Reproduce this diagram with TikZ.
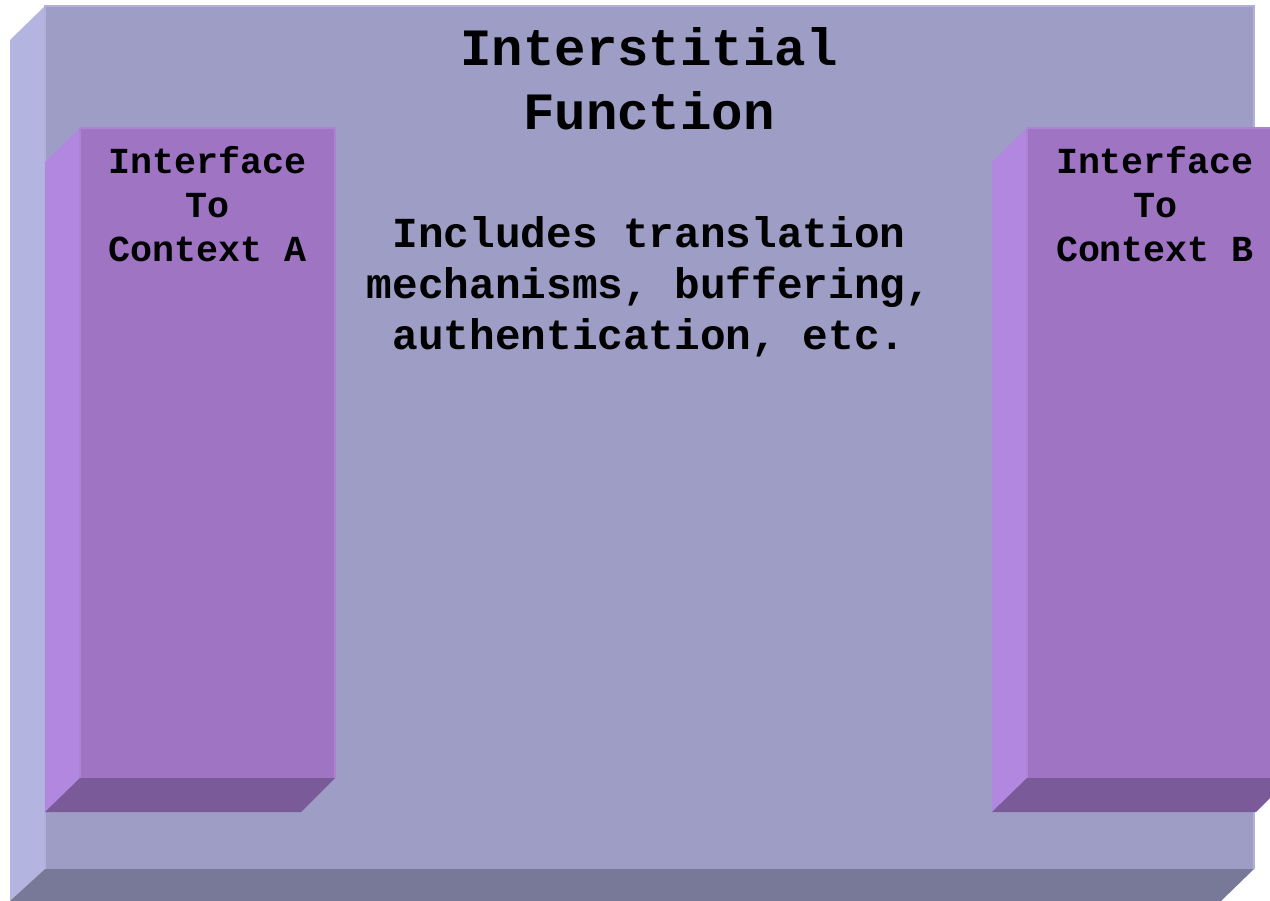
\documentclass[tikz,border=0pt]{standalone}
\usepackage{fontspec}
\setmonofont{Liberation Mono}
\definecolor{slabFront}{RGB}{157,157,197}
\definecolor{slabLeft}{RGB}{180,180,225}
\definecolor{slabBottom}{RGB}{120,120,152}
\definecolor{slabEdge}{RGB}{176,176,216}
\definecolor{pillarFront}{RGB}{158,116,195}
\definecolor{pillarLeft}{RGB}{178,135,224}
\definecolor{pillarBottom}{RGB}{122,90,152}
\definecolor{pillarEdge}{RGB}{172,130,212}
\tikzset{
  label/.style={font=\ttfamily\bfseries, text=black, align=center, inner sep=0pt},
  titletext/.style={label, font=\ttfamily\bfseries\fontsize{52.6}{64}\selectfont},
  bodytext/.style={label, font=\ttfamily\bfseries\fontsize{42.9}{51}\selectfont},
  pillartext/.style={label, font=\ttfamily\bfseries\fontsize{36.8}{44.5}\selectfont},
}
\begin{document}
\begin{tikzpicture}[x=1bp, y=-1bp]
  \useasboundingbox (0,0) rectangle (1270,901);
  \fill[white] (0,0) rectangle (1270,901);
  \clip (0,0) rectangle (1270,901);

  % outer slab: front face with left and bottom bevels
  \fill[slabLeft] (10,40) -- (45,6) -- (45,869) -- (10,901) -- cycle;
  \fill[slabBottom] (45,869) -- (1254,869) -- (1221,901) -- (10,901) -- cycle;
  \fill[slabFront] (45,6) rectangle (1254,869);
  \draw[slabEdge, line width=1.5] (45,869) -- (45,6) -- (1254,6) -- (1254,869);

  % left pillar
  \fill[pillarLeft] (45,162) -- (80,128) -- (80,778) -- (45,812) -- cycle;
  \fill[pillarBottom] (80,778) -- (335,778) -- (301,812) -- (45,812) -- cycle;
  \fill[pillarFront] (80,128) rectangle (335,778);
  \draw[pillarEdge, line width=1.5] (80,778) -- (80,128) -- (335,128) -- (335,778);

  % right pillar
  \fill[pillarLeft] (992,162) -- (1027,128) -- (1027,778) -- (992,812) -- cycle;
  \fill[pillarBottom] (1027,778) -- (1290,778) -- (1256,812) -- (992,812) -- cycle;
  \fill[pillarFront] (1027,128) rectangle (1290,778);
  \draw[pillarEdge, line width=1.5] (1027,778) -- (1027,128) -- (1290,128);

  % labels
  \node[titletext] (title) at (649,79) {Interstitial\\Function};
  \node[bodytext] (body) at (649,287) {Includes translation\\mechanisms, buffering,\\authentication, etc.};
  \node[pillartext] (ifa) at (208,204) {Interface\\To\\Context A};
  \node[pillartext] (ifb) at (1155,204) {Interface\\To\\Context B};
\end{tikzpicture}
\end{document}
